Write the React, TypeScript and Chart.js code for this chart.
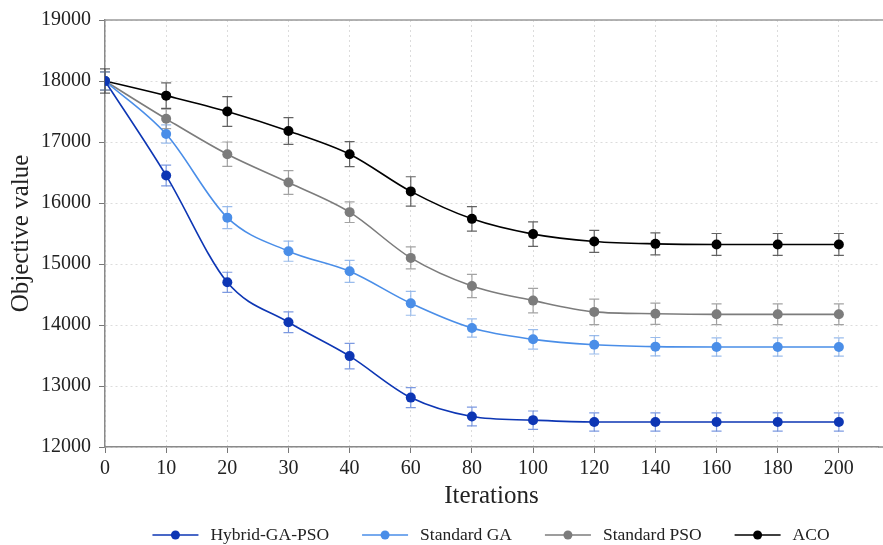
import React, { useEffect, useRef } from "react";
import { Chart, registerables } from "chart.js";

Chart.register(...registerables);

const iterations = ["0", "10", "20", "30", "40", "60", "80", "100", "120", "140", "160", "180", "200"];
const yTicks = [12000, 13000, 14000, 15000, 16000, 17000, 18000, 19000];

const hybridValues = [18000, 16450, 14700, 14045, 13490, 12810, 12500, 12440, 12410, 12410, 12410, 12410, 12410];
const hybridErr = [150, 170, 165, 170, 210, 165, 155, 150, 150, 150, 150, 150, 150];

const gaValues = [18000, 17130, 15760, 15210, 14880, 14355, 13950, 13765, 13675, 13645, 13640, 13640, 13640];
const gaErr = [150, 150, 180, 165, 180, 195, 150, 160, 150, 150, 150, 150, 150];

const psoValues = [18000, 17380, 16800, 16335, 15850, 15100, 14640, 14400, 14215, 14185, 14175, 14175, 14175];
const psoErr = [150, 160, 200, 195, 170, 180, 190, 200, 210, 175, 170, 170, 170];

const acoValues = [18000, 17760, 17500, 17180, 16800, 16190, 15740, 15490, 15370, 15330, 15320, 15320, 15320];
const acoErr = [200, 210, 245, 220, 205, 240, 200, 200, 180, 180, 180, 180, 180];

const seriesNames = ["Hybrid-GA-PSO", "Standard GA", "Standard PSO", "ACO"];
const lineColors = ["#0d36b4", "#4a8ee8", "#7c7c7c", "#000000"];
const errColors = ["rgba(80,120,215,0.75)", "rgba(120,165,230,0.75)", "rgba(140,140,140,0.8)", "rgba(60,60,60,0.8)"];

const FONT = "'Liberation Serif', 'Times New Roman', serif";

const errorBarPlugin = {
  id: "errorBars",
  beforeDatasetsDraw(chart: any) {
    const ctx = chart.ctx;
    const ys = chart.scales.y;
    const xs = chart.scales.x;
    const errs = [hybridErr, gaErr, psoErr, acoErr];
    ctx.save();
    chart.data.datasets.forEach((ds: any, di: number) => {
      ctx.strokeStyle = errColors[di];
      ctx.lineWidth = 1.2;
      ds.data.forEach((pt: any, i: number) => {
        const x = xs.getPixelForValue(pt.x);
        const top = ys.getPixelForValue(pt.y + errs[di][i]);
        const bot = ys.getPixelForValue(pt.y - errs[di][i]);
        ctx.beginPath();
        ctx.moveTo(x, top);
        ctx.lineTo(x, bot);
        ctx.moveTo(x - 5, top);
        ctx.lineTo(x + 5, top);
        ctx.moveTo(x - 5, bot);
        ctx.lineTo(x + 5, bot);
        ctx.stroke();
      });
    });
    ctx.restore();
  },
  afterDraw(chart: any) {
    const ctx = chart.ctx;
    const area = chart.chartArea;
    ctx.save();
    ctx.strokeStyle = "#9a9a9a";
    ctx.lineWidth = 1.5;
    ctx.beginPath();
    ctx.moveTo(area.left, area.top);
    ctx.lineTo(chart.width, area.top);
    ctx.stroke();
    ctx.strokeStyle = "#8a8a8a";
    ctx.beginPath();
    ctx.moveTo(area.right, area.bottom);
    ctx.lineTo(chart.width, area.bottom);
    ctx.stroke();

    ctx.font = "17.5px " + FONT;
    ctx.textBaseline = "middle";
    const lineLen = 46;
    const gapText = 12;
    const gapItem = 33;
    const widths = seriesNames.map((n) => ctx.measureText(n).width);
    const total = widths.reduce((a, w) => a + lineLen + gapText + w, 0) + gapItem * (seriesNames.length - 1);
    let x = 491 - total / 2;
    const y = 535;
    seriesNames.forEach((n, i) => {
      ctx.strokeStyle = lineColors[i];
      ctx.lineWidth = 1.6;
      ctx.beginPath();
      ctx.moveTo(x, y);
      ctx.lineTo(x + lineLen, y);
      ctx.stroke();
      ctx.fillStyle = lineColors[i];
      ctx.beginPath();
      ctx.arc(x + lineLen / 2, y, 4.5, 0, Math.PI * 2);
      ctx.fill();
      ctx.fillStyle = "#222";
      ctx.textAlign = "left";
      ctx.fillText(n, x + lineLen + gapText, y);
      x += lineLen + gapText + widths[i] + gapItem;
    });
    ctx.restore();
  },
};

export default function App() {
  const canvasRef = useRef<HTMLCanvasElement | null>(null);

  useEffect(() => {
    if (!canvasRef.current) return;
    const mk = (vals: number[], i: number) => ({
      label: seriesNames[i],
      data: vals.map((v, k) => ({ x: k, y: v })),
      borderColor: lineColors[i],
      backgroundColor: lineColors[i],
      pointBackgroundColor: lineColors[i],
      pointBorderColor: lineColors[i],
      pointRadius: 5,
      pointBorderWidth: 0,
      borderWidth: 1.6,
      cubicInterpolationMode: "monotone" as const,
      fill: false,
    });
    const chart = new Chart(canvasRef.current, {
      type: "line",
      data: {
        datasets: [mk(hybridValues, 0), mk(gaValues, 1), mk(psoValues, 2), mk(acoValues, 3)],
      },
      plugins: [errorBarPlugin],
      options: {
        animation: false,
        responsive: false,
        maintainAspectRatio: false,
        layout: { padding: { top: 19, right: 0, bottom: 30, left: 0 } },
        plugins: {
          legend: { display: false },
          tooltip: { enabled: false },
        },
        scales: {
          x: {
            type: "linear",
            min: 0,
            max: 12.64,
            afterBuildTicks: (scale: any) => {
              scale.ticks = iterations.map((_, i) => ({ value: i }));
            },
            afterFit: (scale: any) => {
              scale.height = 68;
            },
            ticks: {
              callback: (v: any) => iterations[v] ?? "",
              font: { family: FONT, size: 20 },
              color: "#222",
              padding: 4,
              maxRotation: 0,
              autoSkip: false,
            },
            grid: {
              color: "#dcdcdc",
              lineWidth: 1,
              tickLength: 6,
              tickColor: "#777",
              tickWidth: 1,
              tickBorderDash: [],
            },
            border: { display: true, color: "#8a8a8a", width: 1.5, dash: [2, 3] },
            title: {
              display: true,
              text: "Iterations",
              font: { family: FONT, size: 25 },
              color: "#222",
              padding: { top: 0, bottom: 4 },
            },
          },
          y: {
            min: 12000,
            max: 19000,
            afterBuildTicks: (scale: any) => {
              scale.ticks = yTicks.map((v) => ({ value: v }));
            },
            afterFit: (scale: any) => {
              scale.width = 105;
            },
            ticks: {
              callback: (v: any) => String(v),
              font: { family: FONT, size: 20 },
              color: "#222",
              padding: 8,
            },
            grid: {
              color: "#dcdcdc",
              lineWidth: 1,
              tickLength: 6,
              tickColor: "#777",
              tickWidth: 1,
              tickBorderDash: [],
            },
            border: { display: true, color: "#8a8a8a", width: 1.5, dash: [2, 3] },
            title: {
              display: true,
              text: "Objective value",
              font: { family: FONT, size: 25 },
              color: "#222",
              padding: { top: 6, bottom: 0 },
            },
          },
        },
      } as any,
    });
    return () => chart.destroy();
  }, []);

  return (
    <div style={{ position: "fixed", left: 0, top: 0, width: 883, height: 545, background: "#fff" }}>
      <canvas ref={canvasRef} width={883} height={545} style={{ display: "block" }} />
    </div>
  );
}
